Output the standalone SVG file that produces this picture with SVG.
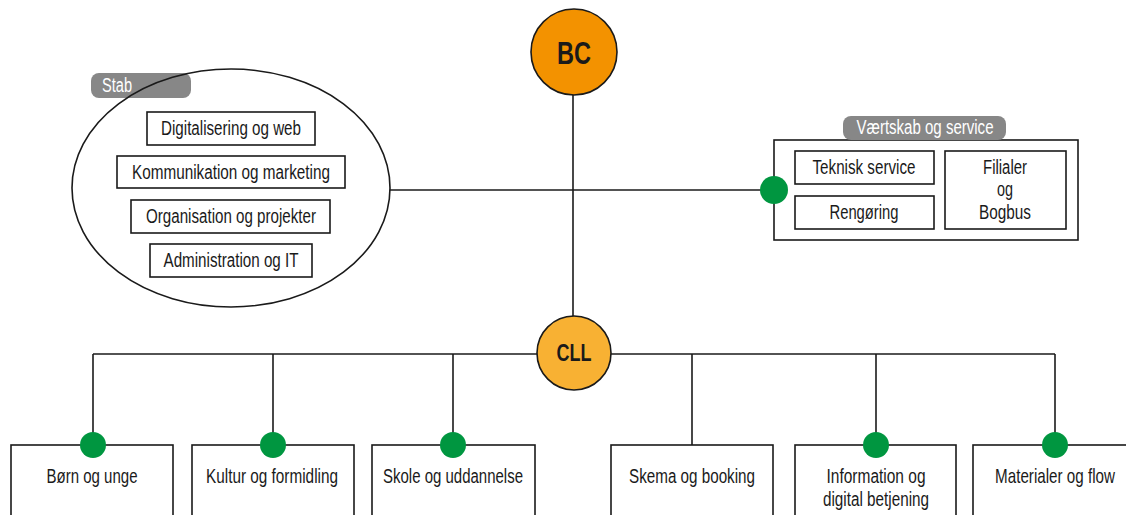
<svg xmlns="http://www.w3.org/2000/svg" width="1126" height="515" viewBox="0 0 1126 515">
  <style>
    .ln { stroke: #1a1a1a; stroke-width: 1.6; fill: none; }
    .box { fill: #ffffff; stroke: #1a1a1a; stroke-width: 1.6; }
    .tab { fill: #878787; }
    .dot { fill: #009640; }
    .t { font-family: "Liberation Sans", Arial, sans-serif; font-size: 20px; fill: #1a1a1a; text-anchor: middle; }
    .tw { font-family: "Liberation Sans", Arial, sans-serif; font-size: 20px; fill: #ffffff; }
    .big { font-family: "Liberation Sans", Arial, sans-serif; font-weight: bold; fill: #1a1a1a; text-anchor: middle; }
  </style>
  <rect width="1126" height="515" fill="#ffffff"/>

  <!-- connectors -->
  <g id="connectors">
    <line class="ln" x1="573" y1="94" x2="573" y2="317"/>
    <line class="ln" x1="389" y1="190" x2="774" y2="190"/>
    <line class="ln" x1="93" y1="354" x2="1055" y2="354"/>
    <line class="ln" x1="93" y1="354" x2="93" y2="445"/>
    <line class="ln" x1="273" y1="354" x2="273" y2="445"/>
    <line class="ln" x1="453" y1="354" x2="453" y2="445"/>
    <line class="ln" x1="692" y1="354" x2="692" y2="445"/>
    <line class="ln" x1="876" y1="354" x2="876" y2="445"/>
    <line class="ln" x1="1055" y1="354" x2="1055" y2="445"/>
  </g>

  <!-- top node -->
  <g id="node-bc">
    <circle cx="574" cy="52" r="43" fill="#F39200" stroke="#1a1a1a" stroke-width="1.6"/>
    <text class="big" x="574" y="64" font-size="32" textLength="34" lengthAdjust="spacingAndGlyphs">BC</text>
  </g>

  <!-- staff group -->
  <g id="node-stab">
    <ellipse cx="231" cy="188" rx="159" ry="119" fill="#ffffff"/>
    <rect class="tab" x="91" y="73" width="100" height="25" rx="8"/>
    <ellipse cx="231" cy="188" rx="159" ry="119" fill="none" stroke="#1a1a1a" stroke-width="1.6"/>
    <text class="tw" x="102" y="92" textLength="30" lengthAdjust="spacingAndGlyphs">Stab</text>
    <rect class="box" x="147" y="112" width="168" height="33"/>
    <text class="t" x="231" y="135" textLength="140" lengthAdjust="spacingAndGlyphs">Digitalisering og web</text>
    <rect class="box" x="117" y="156" width="228" height="32"/>
    <text class="t" x="231" y="179" textLength="198" lengthAdjust="spacingAndGlyphs">Kommunikation og marketing</text>
    <rect class="box" x="131" y="200" width="199" height="33"/>
    <text class="t" x="231" y="223" textLength="170" lengthAdjust="spacingAndGlyphs">Organisation og projekter</text>
    <rect class="box" x="150" y="244" width="162" height="33"/>
    <text class="t" x="231" y="267" textLength="135" lengthAdjust="spacingAndGlyphs">Administration og IT</text>
  </g>

  <!-- host & service group -->
  <g id="node-vaertskab">
    <rect class="box" x="774" y="140" width="304" height="100"/>
    <rect class="tab" x="843" y="116" width="163" height="24" rx="8"/>
    <text class="tw" x="925" y="134" text-anchor="middle" textLength="137" lengthAdjust="spacingAndGlyphs">Værtskab og service</text>
    <rect class="box" x="795" y="151" width="139" height="33"/>
    <text class="t" x="864" y="174" textLength="103" lengthAdjust="spacingAndGlyphs">Teknisk service</text>
    <rect class="box" x="795" y="196" width="139" height="33"/>
    <text class="t" x="864" y="219" textLength="69" lengthAdjust="spacingAndGlyphs">Rengøring</text>
    <rect class="box" x="945" y="151" width="121" height="78"/>
    <text class="t" x="1005" y="174" textLength="44" lengthAdjust="spacingAndGlyphs">Filialer</text>
    <text class="t" x="1005" y="196" textLength="16" lengthAdjust="spacingAndGlyphs">og</text>
    <text class="t" x="1005" y="219" textLength="52" lengthAdjust="spacingAndGlyphs">Bogbus</text>
    <circle class="dot" cx="774" cy="190" r="14"/>
  </g>

  <!-- CLL node -->
  <g id="node-cll">
    <circle cx="574" cy="353" r="37" fill="#F8B133" stroke="#1a1a1a" stroke-width="1.6"/>
    <text class="big" x="574" y="361" font-size="23" textLength="35" lengthAdjust="spacingAndGlyphs">CLL</text>
  </g>

  <!-- departments -->
  <g id="node-born">
    <rect class="box" x="11" y="445" width="162" height="80"/>
    <circle class="dot" cx="93" cy="445" r="13"/>
    <text class="t" x="92" y="483" textLength="91" lengthAdjust="spacingAndGlyphs">Børn og unge</text>
  </g>
  <g id="node-kultur">
    <rect class="box" x="192" y="445" width="162" height="80"/>
    <circle class="dot" cx="273" cy="445" r="13"/>
    <text class="t" x="272" y="483" textLength="132" lengthAdjust="spacingAndGlyphs">Kultur og formidling</text>
  </g>
  <g id="node-skole">
    <rect class="box" x="372" y="445" width="163" height="80"/>
    <circle class="dot" cx="453" cy="445" r="13"/>
    <text class="t" x="453" y="483" textLength="140" lengthAdjust="spacingAndGlyphs">Skole og uddannelse</text>
  </g>
  <g id="node-skema">
    <rect class="box" x="611" y="445" width="162" height="80"/>
    <text class="t" x="692" y="483" textLength="126" lengthAdjust="spacingAndGlyphs">Skema og booking</text>
  </g>
  <g id="node-information">
    <rect class="box" x="795" y="445" width="161" height="80"/>
    <circle class="dot" cx="876" cy="445" r="13"/>
    <text class="t" x="876" y="483" textLength="99" lengthAdjust="spacingAndGlyphs">Information og</text>
    <text class="t" x="876" y="506" textLength="106" lengthAdjust="spacingAndGlyphs">digital betjening</text>
  </g>
  <g id="node-materialer">
    <rect class="box" x="973" y="445" width="170" height="80"/>
    <circle class="dot" cx="1055" cy="445" r="13"/>
    <text class="t" transform="translate(1055 483) scale(0.76 1)" x="0" y="0">Materialer og flow</text>
  </g>
</svg>
